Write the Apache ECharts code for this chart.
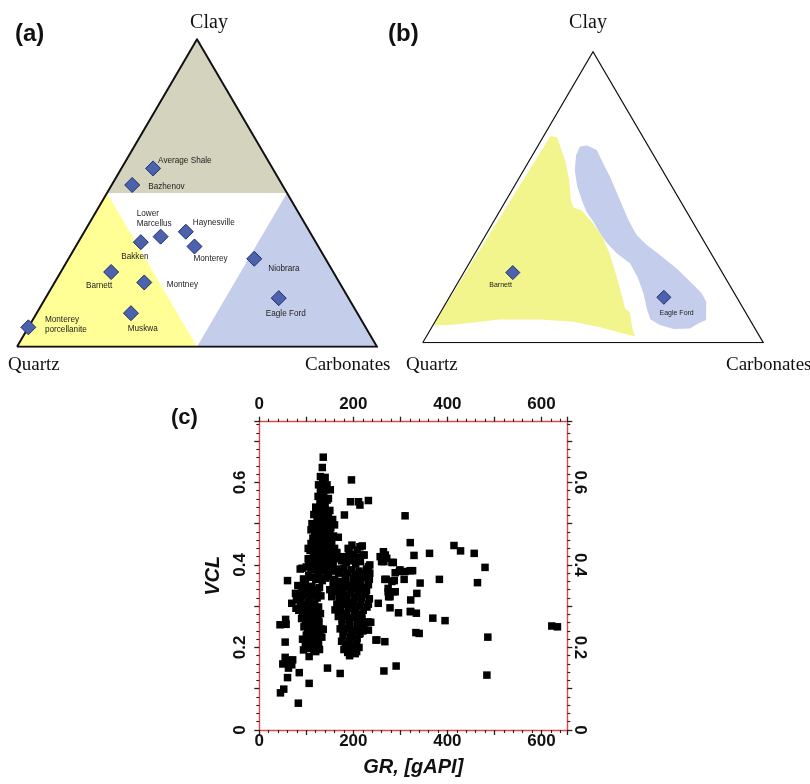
<!DOCTYPE html>
<html>
<head>
<meta charset="utf-8">
<script src="https://cdn.jsdelivr.net/npm/echarts@6/dist/echarts.min.js"></script>
<style>
  html, body { margin: 0; padding: 0; background: #fff; }
  #chart { width: 810px; height: 784px; }
</style>
</head>
<body>
<div id="chart"></div>
<script>
// ---------- (a) shale plays on the Clay / Quartz / Carbonates ternary (percent) ----------
const shaleNames  = ['Average Shale', 'Bazhenov', 'Lower Marcellus', 'Haynesville', 'Bakken', 'Monterey',
                     'Niobrara', 'Barnett', 'Montney', 'Muskwa', 'Monterey porcellanite', 'Eagle Ford'];
const shaleClay   = [58.0, 52.6, 35.8, 37.4, 34.0, 32.6, 28.6, 24.3, 20.9, 10.9, 6.3, 15.8];
const shaleCarb   = [8.8, 5.7, 22.0, 28.2, 17.4, 33.0, 51.6, 14.0, 24.9, 26.2, 0.0, 64.8];
const shaleQuartz = [33.2, 41.7, 42.2, 34.4, 48.6, 34.4, 19.8, 61.7, 54.2, 62.9, 93.7, 19.4];

// lithology fields of (a): vertices as [clay %, carbonate %]
const clayRichField      = [[100, 0], [50, 0], [50, 50]];
const quartzRichField    = [[0, 0], [50, 0], [0, 50]];
const carbonateRichField = [[0, 100], [0, 50], [50, 50]];

// ---------- (b) Barnett and Eagle Ford envelopes ----------
const fieldNames = ['Barnett', 'Eagle Ford'];
const fieldClay  = [24.1, 15.6];
const fieldCarb  = [14.4, 63.0];

const barnettEnvelope = [
  [6, 0], [70, 2], [71, 2], [70.6, 4.2], [67, 7], [62, 11], [56, 15], [49, 19], [46.5, 21], [45.4, 24],
  [41.6, 28.8], [37, 34], [30.7, 39.5], [22.7, 45.6], [15.2, 51.1], [11.8, 53.5], [10.3, 55.7],
  [4.9, 59.1], [2.1, 61.3], [3.2, 57.3], [5.3, 49.4], [7.2, 40.6], [8.0, 30.4], [8.0, 18.7],
  [6.9, 11.4], [6.1, 5.0]
];
const eagleFordEnvelope = [
  [67.4, 12.5], [67.8, 14.4], [66.2, 18], [61.6, 22.2], [57, 26.5], [49, 33.4], [42.2, 39.3],
  [37, 44.3], [33.6, 49], [30.1, 54.6], [25.5, 61.8], [20.4, 68.8], [17, 73.4], [14.1, 76.2],
  [7.8, 79.3], [6.6, 77.6], [4.9, 76], [4.7, 71.3], [6.1, 66.6], [8, 62.9], [11.2, 60.3],
  [17, 56.3], [22.7, 51.7], [27.3, 47.2], [30.7, 41.6], [34.7, 36.4], [38.1, 32.8], [41.6, 29.3],
  [45, 25.6], [49, 22.2], [53.6, 18.6], [59.3, 15], [64.5, 12.8]
];

// ---------- (c) clay volume against gamma ray: [GR gAPI, VCL] ----------
const grVcl = [
  // upper spike
  [136,0.661],[134,0.636],[130,0.614],[140,0.612],[135,0.598],[144,0.594],[151,0.582],[126,0.594],
  [130,0.578],[137,0.570],[125,0.566],[133,0.553],[144,0.557],[147,0.561],[140,0.545],
  [120,0.540],[128,0.535],[135,0.530],[142,0.528],[150,0.532],[116,0.522],[123,0.515],[131,0.510],
  [140,0.512],[147,0.518],[156,0.510],[112,0.500],[120,0.497],[128,0.495],[136,0.500],[144,0.495],
  [152,0.490],[160,0.497],[110,0.485],[118,0.480],[126,0.475],[134,0.480],[142,0.472],[150,0.478],
  [158,0.470],[114,0.465],[122,0.460],[130,0.458],[138,0.455],[146,0.460],[154,0.455],[110,0.452],
  [118,0.448],[126,0.445],[134,0.440],[142,0.442],[150,0.445],[160,0.440],[104,0.440],
  [108,0.435],[115,0.430],[122,0.425],[130,0.430],[138,0.422],[146,0.428],[153,0.420],[165,0.430],
  [104,0.415],[112,0.410],[119,0.405],[126,0.412],[134,0.405],[142,0.410],[149,0.402],[157,0.408],
  [170,0.415],[178,0.420],[100,0.395],[110,0.392],[117,0.388],[124,0.385],[131,0.392],[138,0.386],
  [145,0.380],[152,0.390],[160,0.385],[105,0.375],[113,0.370],[120,0.365],[127,0.372],[134,0.362],
  [141,0.368],[98,0.360],[91,0.392],[105,0.408],[168,0.467],[181,0.521],
  [121,0.528],[138,0.520],[146,0.505],[126,0.505],[132,0.488],[139,0.490],[119,0.470],[130,0.468],
  [145,0.468],[113,0.440],[155,0.432],[117,0.418],[131,0.418],[145,0.415],[162,0.418],[108,0.400],
  [127,0.398],[143,0.395],[156,0.398],[137,0.545],[129,0.552],[141,0.582],[136,0.585],
  // left column
  [82,0.350],[90,0.345],[97,0.350],[104,0.342],[112,0.348],[120,0.340],[128,0.345],[86,0.330],
  [93,0.325],[100,0.330],[108,0.322],[115,0.328],[123,0.320],[131,0.325],[79,0.315],[88,0.310],
  [96,0.305],[104,0.310],[111,0.300],[118,0.305],[126,0.298],[84,0.290],[92,0.285],[100,0.290],
  [108,0.280],[115,0.285],[122,0.278],[130,0.282],[90,0.270],[98,0.265],[106,0.260],[113,0.268],
  [120,0.258],[127,0.262],[95,0.250],[103,0.245],[110,0.240],[117,0.248],[124,0.240],[131,0.245],
  [100,0.230],[108,0.225],[115,0.232],[122,0.222],[129,0.228],[104,0.215],[112,0.210],[119,0.205],
  [126,0.212],[107,0.198],[116,0.195],[124,0.200],[98,0.205],[92,0.220],
  [95,0.338],[110,0.335],[124,0.333],[88,0.300],[100,0.298],[115,0.295],[96,0.278],[110,0.272],
  [125,0.270],[100,0.255],[114,0.255],[106,0.235],[118,0.238],[110,0.220],[124,0.218],[120,0.190],
  [128,0.195],
  // right cluster
  [175,0.410],[185,0.405],[195,0.410],[205,0.402],[215,0.408],[190,0.420],[200,0.425],[210,0.418],
  [165,0.390],[172,0.385],[180,0.392],[188,0.380],[196,0.388],[204,0.378],[212,0.385],[220,0.380],
  [228,0.390],[160,0.365],[168,0.360],[176,0.355],[184,0.362],[192,0.350],[200,0.358],[208,0.348],
  [216,0.355],[224,0.345],[232,0.352],[162,0.335],[170,0.328],[178,0.335],[186,0.325],[194,0.332],
  [202,0.322],[210,0.330],[218,0.320],[226,0.328],[234,0.318],[165,0.305],[173,0.298],[181,0.305],
  [189,0.295],[197,0.302],[205,0.292],[213,0.300],[221,0.290],[229,0.298],[168,0.275],[176,0.268],
  [184,0.275],[192,0.265],[200,0.272],[208,0.262],[216,0.270],[224,0.260],[172,0.245],[180,0.238],
  [188,0.245],[196,0.235],[204,0.242],[212,0.232],[220,0.240],[175,0.215],[183,0.208],[191,0.215],
  [199,0.205],[207,0.212],[180,0.195],[188,0.188],[196,0.192],[204,0.185],[192,0.180],
  [169,0.380],[183,0.370],[200,0.368],[214,0.366],[228,0.370],[165,0.345],[180,0.345],[196,0.342],
  [212,0.340],[228,0.338],[170,0.315],[186,0.312],[200,0.310],[216,0.310],[232,0.305],[172,0.290],
  [186,0.282],[202,0.282],[218,0.280],[176,0.255],[192,0.252],[208,0.250],[222,0.250],[178,0.228],
  [194,0.225],[208,0.222],[186,0.200],[200,0.198],[212,0.200],
  [147,0.372],[157,0.356],[154,0.323],[161,0.291],[150,0.340],
  [189,0.440],[197,0.448],[191,0.432],[208,0.436],[214,0.444],[219,0.446],[221,0.424],[223,0.424],
  [211,0.553],[214,0.545],[232,0.556],[196,0.606],[194,0.553],
  // scattered samples
  [622,0.252],[634,0.250],[484,0.133],[486,0.225],[480,0.394],[464,0.357],[457,0.428],[428,0.434],
  [414,0.447],[395,0.265],[383,0.365],[369,0.271],[362,0.428],[342,0.356],[340,0.234],[333,0.236],
  [335,0.331],[334,0.283],[329,0.423],[326,0.386],[321,0.454],[322,0.315],[322,0.287],[310,0.519],
  [308,0.365],[310,0.384],[298,0.384],[289,0.381],[291,0.155],[296,0.284],[278,0.296],[285,0.406],
  [282,0.360],[274,0.335],[278,0.323],[270,0.365],[265,0.408],[268,0.424],[257,0.420],[265,0.143],
  [267,0.214],[250,0.218],[253,0.307],[235,0.400],[234,0.365],[232,0.242],[237,0.261],
  [264,0.432],[271,0.416],[260,0.408],[282,0.406],[232,0.396],[235,0.380],[299,0.388],[321,0.386],
  [267,0.365],[287,0.362],[274,0.343],[285,0.335],[321,0.287],[275,0.323],[289,0.335],[232,0.262],
  [214,0.234],[248,0.218],[207,0.190],[218,0.269],[213,0.234],[172,0.137],[145,0.150],
  [83,0.065],[45,0.090],[52,0.099],[106,0.113],[60,0.127],[85,0.139],[55,0.176],[58,0.163],
  [69,0.158],[71,0.170],[55,0.213],[44,0.255],[56,0.268],[57,0.256],[60,0.362],[69,0.307],
  [78,0.295],[87,0.390],[77,0.331],[94,0.366],[106,0.178],[94,0.194],[100,0.214],[136,0.244],
  [133,0.225],[62,0.150],[65,0.168],[50,0.160]
];

// ---------- helpers ----------
// ternary (clay %, carbonate %) -> plane coordinates: x across the base, y = clay fraction
function ternaryXY(clay, carb) {
  return [(carb + clay / 2) / 100, clay / 100];
}
const triangleCorners = [[0, 0], [0, 100], [100, 0], [0, 0]]; // quartz, carbonates, clay, back to quartz

function fieldSeries(vertices, gridIdx, color) {
  return {
    type: 'custom', xAxisIndex: gridIdx, yAxisIndex: gridIdx, silent: true, z: 1, clip: false,
    data: [[0.5, 0.5]],
    renderItem: (params, api) => ({
      type: 'polygon',
      shape: { points: vertices.map(v => api.coord(ternaryXY(v[0], v[1]))) },
      style: { fill: color }
    })
  };
}
function outlineSeries(gridIdx, width) {
  return {
    type: 'line', xAxisIndex: gridIdx, yAxisIndex: gridIdx, silent: true, z: 3, symbol: 'none',
    data: triangleCorners.map(c => ternaryXY(c[0], c[1])),
    lineStyle: { color: '#111', width: width, join: 'miter' }
  };
}

// label placement for the named marks (offsets from the marker centre, px)
const labelLayout = {
  'Average Shale':         { align: 'left',   offset: [5, -8] },
  'Bazhenov':              { align: 'left',   offset: [16, 2] },
  'Lower Marcellus':       { align: 'left',   offset: [-24, -18], text: 'Lower\nMarcellus' },
  'Haynesville':           { align: 'left',   offset: [7, -9] },
  'Bakken':                { align: 'center', offset: [-6, 15] },
  'Monterey':              { align: 'left',   offset: [-1, 12.6] },
  'Niobrara':              { align: 'left',   offset: [14, 10] },
  'Barnett':               { align: 'center', offset: [-12, 13.4] },
  'Montney':               { align: 'left',   offset: [22.4, 2.3] },
  'Muskwa':                { align: 'center', offset: [11.8, 15.7] },
  'Monterey porcellanite': { align: 'left',   offset: [16.6, -2.4], text: 'Monterey\nporcellanite' },
  'Eagle Ford':            { align: 'center', offset: [7.1, 16] }
};
const labelLayoutB = {
  'Barnett':    { align: 'center', offset: [-12.2, 12.3] },
  'Eagle Ford': { align: 'center', offset: [12.8, 15.7] }
};

function diamondSeries(names, clay, carb, gridIdx, layout, fontSize, size) {
  return {
    type: 'scatter', xAxisIndex: gridIdx, yAxisIndex: gridIdx, z: 5, silent: true,
    symbol: 'diamond', symbolSize: size,
    itemStyle: { color: '#4d62ac', borderColor: '#1f2d6e', borderWidth: 1, opacity: 1 },
    data: names.map((n, i) => {
      const l = layout[n];
      return {
        name: n,
        value: ternaryXY(clay[i], carb[i]),
        label: {
          show: true, position: 'inside', align: l.align, verticalAlign: 'middle',
          offset: l.offset, formatter: l.text || n,
          fontFamily: 'Liberation Sans, Arial, sans-serif', fontSize: fontSize,
          color: '#1c1c1c', lineHeight: fontSize + 2.4
        }
      };
    })
  };
}

const redAxis = { onZero: false, lineStyle: { color: '#e14848', width: 1.4 } };
const tickStyle = { show: true, length: 5, lineStyle: { color: '#222', width: 1.3 } };
const minorStyle = { show: true, splitNumber: 5, length: 3, lineStyle: { color: '#222', width: 1.1 } };
const numFont = { fontFamily: 'Liberation Sans, Arial, sans-serif', fontWeight: 'bold', fontSize: 17, color: '#111' };
const grLabel = v => (Math.abs(v % 200) < 1e-6 ? String(v) : '');
const vclLabel = v => {
  const r = v / 0.2;
  if (Math.abs(r - Math.round(r)) > 1e-6) return '';
  return v === 0 ? '0' : v.toFixed(1);
};
const hiddenAxis = g => ({ gridIndex: g, type: 'value', min: 0, max: 1, show: false });

const serif = 'Liberation Serif, Times New Roman, serif';
const sans = 'Liberation Sans, Arial, sans-serif';
function txt(text, x, y, font, align) {
  return { type: 'text', silent: true, style: { text: text, x: x, y: y, font: font, fill: '#111',
           textAlign: align || 'left', textVerticalAlign: 'middle' } };
}

const chart = echarts.init(document.getElementById('chart'));
chart.setOption({
  animation: false,
  backgroundColor: '#fff',
  grid: [
    { left: 17, top: 39.3, width: 360, height: 307.4 },
    { left: 422.7, top: 51.7, width: 340.6, height: 291 },
    { left: 259.3, top: 421.7, width: 308, height: 308.3 }
  ],
  xAxis: [
    hiddenAxis(0), hiddenAxis(1),
    { gridIndex: 2, type: 'value', position: 'bottom', min: 0, max: 655, interval: 100,
      axisLine: redAxis, axisTick: tickStyle, minorTick: minorStyle, splitLine: { show: false },
      axisLabel: Object.assign({ formatter: grLabel, margin: 3 }, numFont),
      name: 'GR, [gAPI]', nameLocation: 'middle', nameGap: 27,
      nameTextStyle: { fontFamily: sans, fontWeight: 'bold', fontStyle: 'italic', fontSize: 20, color: '#111' } },
    { gridIndex: 2, type: 'value', position: 'top', min: 0, max: 655, interval: 100,
      axisLine: redAxis, axisTick: tickStyle, minorTick: minorStyle, splitLine: { show: false },
      axisLabel: Object.assign({ formatter: grLabel, margin: 9 }, numFont) }
  ],
  yAxis: [
    hiddenAxis(0), hiddenAxis(1),
    { gridIndex: 2, type: 'value', position: 'left', min: 0, max: 0.747, interval: 0.1,
      axisLine: redAxis, axisTick: tickStyle, minorTick: minorStyle, splitLine: { show: false },
      axisLabel: Object.assign({ formatter: vclLabel, rotate: 90, margin: 10 }, numFont),
      name: 'VCL', nameLocation: 'middle', nameGap: 36,
      nameTextStyle: { fontFamily: sans, fontWeight: 'bold', fontStyle: 'italic', fontSize: 20, color: '#111' } },
    { gridIndex: 2, type: 'value', position: 'right', min: 0, max: 0.747, interval: 0.1,
      axisLine: redAxis, axisTick: tickStyle, minorTick: minorStyle, splitLine: { show: false },
      axisLabel: Object.assign({ formatter: vclLabel, rotate: -90, margin: 4 }, numFont) }
  ],
  series: [
    fieldSeries(clayRichField, 0, '#d4d3bd'),
    fieldSeries(quartzRichField, 0, '#ffff96'),
    fieldSeries(carbonateRichField, 0, '#c4cdea'),
    outlineSeries(0, 2),
    diamondSeries(shaleNames, shaleClay, shaleCarb, 0, labelLayout, 8.2, 15),

    fieldSeries(barnettEnvelope, 1, '#f1f58c'),
    fieldSeries(eagleFordEnvelope, 1, '#c4ceec'),
    outlineSeries(1, 1.2),
    diamondSeries(fieldNames, fieldClay, fieldCarb, 1, labelLayoutB, 7, 14),

    { type: 'scatter', xAxisIndex: 2, yAxisIndex: 2, silent: true, symbol: 'rect', symbolSize: 7.5,
      itemStyle: { color: '#000', opacity: 1 }, data: grVcl }
  ],
  graphic: [
    txt('(a)', 15, 34, 'bold 24px ' + sans),
    txt('Clay', 209, 23, '20px ' + serif, 'center'),
    txt('Quartz', 8, 365, '19px ' + serif),
    txt('Carbonates', 305, 365, '19px ' + serif),
    txt('(b)', 388, 34, 'bold 24px ' + sans),
    txt('Clay', 588, 23, '20px ' + serif, 'center'),
    txt('Quartz', 406, 365, '19px ' + serif),
    txt('Carbonates', 726, 365, '19px ' + serif),
    txt('(c)', 171, 418, 'bold 22px ' + sans)
  ]
});
</script>
</body>
</html>
